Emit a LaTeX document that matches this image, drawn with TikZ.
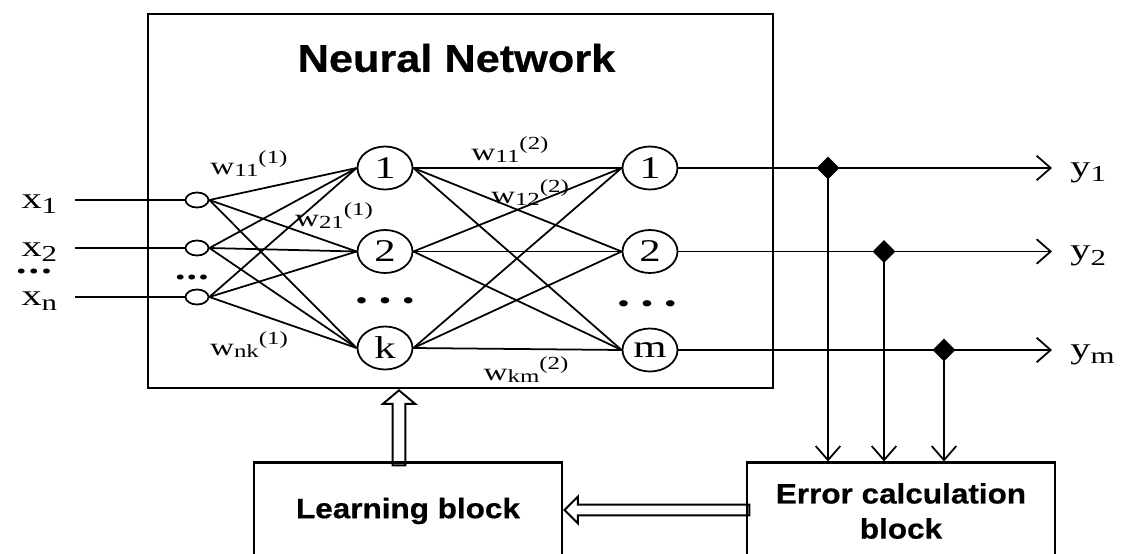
\documentclass[tikz,border=0pt]{standalone}
\usepackage{fontspec}
\setmainfont{Liberation Serif}[FakeStretch=1.35]
\newfontfamily\blockfont{Liberation Sans}[BoldFeatures={FakeStretch=1.12,FakeBold=0.6}]
\usetikzlibrary{shapes.geometric,shapes.arrows,arrows.meta}

\newcommand{\wgt}[2]{w\raisebox{-0.1em}{\fontsize{10.5}{10.5}\selectfont #1}\raisebox{0.43em}{\fontsize{10.5}{10.5}\selectfont(#2)}}
\newcommand{\iolab}[2]{#1\raisebox{-0.2em}{\fontsize{13}{13}\selectfont #2}}

\tikzset{
    neuron/.style={ellipse, draw, line width=1pt, minimum width=1.1cm, minimum height=0.86cm, inner sep=0pt, font=\fontsize{18}{18}\selectfont},
    inpt/.style={ellipse, draw, line width=1pt, minimum width=0.46cm, minimum height=0.3cm, inner sep=0pt},
    jdot/.style={diamond, fill=black, inner sep=0pt, minimum size=13pt},
    blockbox/.style={draw, line width=1.2pt, font=\blockfont\bfseries\fontsize{16}{20}\selectfont, align=center},
    wlbl/.style={font=\fontsize{14}{14}\selectfont, inner sep=1pt},
    iolbl/.style={font=\fontsize{17}{17}\selectfont, inner sep=0pt},
    dotlbl/.style={font=\fontsize{12}{12}\selectfont, inner sep=0pt},
    conn/.style={line width=1pt},
    outarrow/.style={line width=1pt, -{Straight Barb[length=8pt,width=14pt]}},
    fatarrow/.style={single arrow, draw, line width=1.1pt, inner xsep=0pt, anchor=tip},
}

\begin{document}
\begin{tikzpicture}
    \useasboundingbox (0,0) rectangle (22.56,-11.08);

    % neural network frame
    \node[draw, line width=1.2pt, minimum width=12.5cm, minimum height=7.48cm] (nn) at (9.21,-4.02) {};
    \node[font=\blockfont\bfseries\fontsize{22}{22}\selectfont] (title) at (9.13,-1.16) {Neural Network};

    % inputs
    \node[inpt] (in1) at (3.94,-4.0) {};
    \node[inpt] (in2) at (3.94,-4.96) {};
    \node[inpt] (in3) at (3.94,-5.94) {};
    \coordinate (s1) at (1.5,-4.0);
    \coordinate (s2) at (1.5,-4.96);
    \coordinate (s3) at (1.5,-5.94);
    \node[iolbl, anchor=base east] (lx1) at (1.15,-4.16) {\iolab{x}{1}};
    \node[iolbl, anchor=base east] (lx2) at (1.15,-5.12) {\iolab{x}{2}};
    \node[iolbl, anchor=base east] (lx3) at (1.15,-6.10) {\iolab{x}{n}};
    \node[dotlbl] (ldots) at (0.68,-5.47) {\textbullet\kern1.5pt\textbullet\kern1.5pt\textbullet};
    \node[dotlbl] (idots) at (3.84,-5.6) {\textbullet\kern1pt\textbullet\kern1pt\textbullet};
    \foreach \i in {1,2,3}
        \draw[conn] (s\i) -- (in\i);

    % hidden layer
    \node[neuron] (h1) at (7.7,-3.36) {1};
    \node[neuron] (h2) at (7.7,-5.03) {2};
    \node[neuron] (h3) at (7.7,-6.96) {k};
    \node[dotlbl, font=\fontsize{15}{15}\selectfont] (hdots) at (7.7,-6.08) {\textbullet\hspace{0.22cm}\textbullet\hspace{0.22cm}\textbullet};

    % output layer
    \node[neuron] (o1) at (13.0,-3.36) {1};
    \node[neuron] (o2) at (13.0,-5.03) {2};
    \node[neuron] (o3) at (13.0,-7.0) {m};
    \node[dotlbl, font=\fontsize{15}{15}\selectfont] (odots) at (12.94,-6.14) {\textbullet\hspace{0.22cm}\textbullet\hspace{0.22cm}\textbullet};

    % weights
    \foreach \i in {1,2,3}
        \foreach \j in {1,2,3} {
            \draw[conn] (in\i.east) -- (h\j.west);
            \draw[conn] (h\i.east) -- (o\j.west);
        }
    \node[wlbl] (w1a) at (4.98,-3.28) {\wgt{11}{1}};
    \node[wlbl] (w1b) at (6.68,-4.32) {\wgt{21}{1}};
    \node[wlbl] (w1c) at (4.98,-6.9) {\wgt{nk}{1}};
    \node[wlbl] (w2a) at (10.2,-3.0) {\wgt{11}{2}};
    \node[wlbl] (w2b) at (10.6,-3.86) {\wgt{12}{2}};
    \node[wlbl] (w2c) at (10.52,-7.4) {\wgt{km}{2}};

    % outputs
    \coordinate (e1) at (21.04,-3.36);
    \coordinate (e2) at (21.04,-5.03);
    \coordinate (e3) at (21.04,-7.0);
    \node[iolbl, anchor=base west] (ly1) at (21.4,-3.52) {\iolab{y}{1}};
    \node[iolbl, anchor=base west] (ly2) at (21.4,-5.19) {\iolab{y}{2}};
    \node[iolbl, anchor=base west] (ly3) at (21.4,-7.16) {\iolab{y}{m}};
    \node[jdot] (j1) at (16.56,-3.36) {};
    \node[jdot] (j2) at (17.68,-5.03) {};
    \node[jdot] (j3) at (18.88,-7.0) {};
    \foreach \i in {1,2,3}
        \draw[outarrow] (o\i) -- (e\i);

    % learning and error blocks
    \node[blockbox, minimum width=6.16cm, minimum height=1.94cm] (learn) at (8.16,-10.22) {Learning block};
    \node[blockbox, minimum width=6.16cm, minimum height=1.94cm] (err) at (18.02,-10.22) {Error calculation\\block};
    \foreach \i in {1,2,3}
        \draw[outarrow] (j\i.center) -- (j\i |- err.north);

    % feedback arrows
    \coordinate (up) at (7.98,0);
    \coordinate (back) at (0,-10.2);
    \node[fatarrow, rotate=90, inner ysep=3.1pt, single arrow head extend=5.5pt,
          single arrow tip angle=100, minimum height=1.5cm] (uparr) at (nn.south -| up) {};
    \node[fatarrow, rotate=180, inner ysep=2.5pt, single arrow head extend=4.6pt,
          single arrow tip angle=90, minimum height=3.7cm] (backarr) at (learn.east |- back) {};
\end{tikzpicture}
\end{document}
